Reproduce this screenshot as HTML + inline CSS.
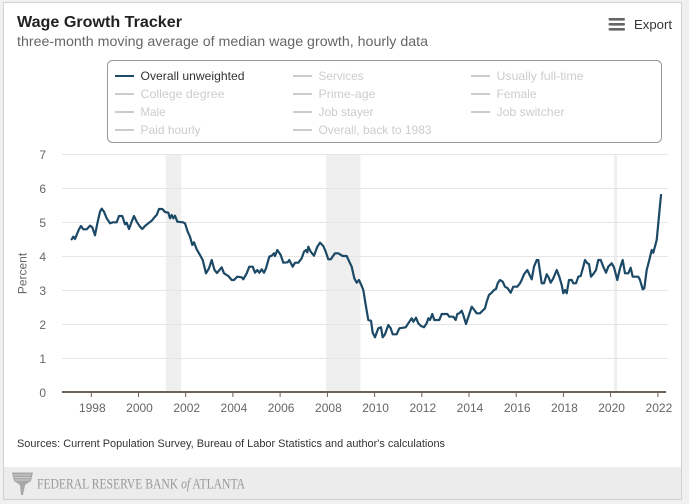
<!DOCTYPE html>
<html>
<head>
<meta charset="utf-8">
<style>
  html,body{margin:0;padding:0;background:#f0f0f0;}
  svg{display:block;}
  text{font-family:"Liberation Sans",Arial,sans-serif;}
</style>
</head>
<body>
<svg width="689" height="504" viewBox="0 0 689 504" xmlns="http://www.w3.org/2000/svg">
  <!-- card -->
  <rect x="0" y="0" width="689" height="504" fill="#f0f0f0"/>
  <rect x="3.5" y="2.5" width="678" height="497" fill="#ffffff" stroke="#d2d2d2" stroke-width="1"/>
  <!-- footer -->
  <rect x="4" y="467" width="677" height="32" fill="#ececec"/>
  <line x1="4" y1="499.5" x2="681" y2="499.5" stroke="#cfcfcf" stroke-width="1"/>

  <!-- title -->
  <text x="17" y="27" font-size="16" font-weight="bold" fill="#222" textLength="165" lengthAdjust="spacingAndGlyphs">Wage Growth Tracker</text>
  <text x="17" y="46" font-size="14" fill="#666" textLength="411" lengthAdjust="spacingAndGlyphs">three-month moving average of median wage growth, hourly data</text>

  <!-- export -->
  <rect x="608.5" y="18" width="16.5" height="2.6" rx="1.2" fill="#666"/>
  <rect x="608.5" y="23" width="16.5" height="2.6" rx="1.2" fill="#666"/>
  <rect x="608.5" y="28" width="16.5" height="2.6" rx="1.2" fill="#666"/>
  <text x="634" y="29" font-size="13" fill="#333" textLength="38" lengthAdjust="spacingAndGlyphs">Export</text>

  <!-- legend -->
  <rect x="107.5" y="60.5" width="554" height="82" rx="5" ry="5" fill="#fff" stroke="#999" stroke-width="1"/>
  <g stroke-width="2">
    <line x1="115" y1="76" x2="134" y2="76" stroke="#1c4966"/>
    <line x1="293" y1="76" x2="312" y2="76" stroke="#ccc"/>
    <line x1="471" y1="76" x2="490" y2="76" stroke="#ccc"/>
    <line x1="115" y1="94" x2="134" y2="94" stroke="#ccc"/>
    <line x1="293" y1="94" x2="312" y2="94" stroke="#ccc"/>
    <line x1="471" y1="94" x2="490" y2="94" stroke="#ccc"/>
    <line x1="115" y1="112" x2="134" y2="112" stroke="#ccc"/>
    <line x1="293" y1="112" x2="312" y2="112" stroke="#ccc"/>
    <line x1="471" y1="112" x2="490" y2="112" stroke="#ccc"/>
    <line x1="115" y1="130" x2="134" y2="130" stroke="#ccc"/>
    <line x1="293" y1="130" x2="312" y2="130" stroke="#ccc"/>
  </g>
  <g font-size="12" fill="#ccc">
    <text x="140.5" y="80" fill="#333" textLength="104" lengthAdjust="spacingAndGlyphs">Overall unweighted</text>
    <text x="318.5" y="80" textLength="45" lengthAdjust="spacingAndGlyphs">Services</text>
    <text x="496.5" y="80" textLength="87" lengthAdjust="spacingAndGlyphs">Usually full-time</text>
    <text x="140.5" y="98" textLength="84" lengthAdjust="spacingAndGlyphs">College degree</text>
    <text x="318.5" y="98" textLength="57" lengthAdjust="spacingAndGlyphs">Prime-age</text>
    <text x="496.5" y="98" textLength="40" lengthAdjust="spacingAndGlyphs">Female</text>
    <text x="140.5" y="116" textLength="25" lengthAdjust="spacingAndGlyphs">Male</text>
    <text x="318.5" y="116" textLength="55" lengthAdjust="spacingAndGlyphs">Job stayer</text>
    <text x="496.5" y="116" textLength="68" lengthAdjust="spacingAndGlyphs">Job switcher</text>
    <text x="140.5" y="134" textLength="60" lengthAdjust="spacingAndGlyphs">Paid hourly</text>
    <text x="318.5" y="134" textLength="113" lengthAdjust="spacingAndGlyphs">Overall, back to 1983</text>
  </g>

  <!-- recession bands -->
  <rect x="165.7" y="155" width="15.5" height="237" fill="#efefef"/>
  <rect x="326" y="155" width="34.5" height="237" fill="#efefef"/>
  <rect x="614" y="155" width="3.2" height="237" fill="#efefef"/>

  <!-- gridlines -->
  <g stroke="#e6e6e6" stroke-width="1">
    <line x1="62" y1="154.5" x2="668" y2="154.5"/>
    <line x1="62" y1="188.5" x2="668" y2="188.5"/>
    <line x1="62" y1="222.5" x2="668" y2="222.5"/>
    <line x1="62" y1="256.5" x2="668" y2="256.5"/>
    <line x1="62" y1="290.5" x2="668" y2="290.5"/>
    <line x1="62" y1="324.5" x2="668" y2="324.5"/>
    <line x1="62" y1="358.5" x2="668" y2="358.5"/>
  </g>

  <!-- y labels -->
  <g font-size="12" fill="#666" text-anchor="end">
    <text x="46" y="159">7</text>
    <text x="46" y="193">6</text>
    <text x="46" y="227">5</text>
    <text x="46" y="261">4</text>
    <text x="46" y="295">3</text>
    <text x="46" y="329">2</text>
    <text x="46" y="363">1</text>
    <text x="46" y="397">0</text>
  </g>
  <text x="0" y="0" font-size="12" fill="#666" text-anchor="middle" transform="translate(26.5,273.5) rotate(-90)">Percent</text>

  <!-- series -->
  <polyline fill="none" stroke="#1c4966" stroke-width="2.2" stroke-linejoin="round" stroke-linecap="round" points="
71.7,239.3 73.3,236.7 75,239 77.3,233.3 79,229.3 81,226 83.3,229.3 86.7,229.3 90,225.7 92.3,227.3 95,235.3 97.7,221.7 100,211.7 101.7,208.7 104,211.7 106.7,218.3 110,223.3 112.7,222.3 116.7,222.3 119,216 122.3,216 125,224.3 126.7,222.7 129,229 131.7,221.7 134,216 136.7,221.7 140,226.7 142.3,229 145,226 148.3,223.3 151.7,220.7 155,216.7 156.7,215 159,209 162.3,209 165,212 168.3,212.7 170,218.3 171.7,215 173.3,218.3 175,215.7 177.3,221.7 182.7,222.3 185,223.3 187.7,231.7 190,236.7 192.3,245 194,242.3 196.7,249.3 200,255 202.7,260 206,273.3 209,268.3 211.7,260 214.5,270 217,273 221.7,267.3 224,273.3 228.3,276 231.7,280 234,280 237.3,276.7 241.7,277.3 243.3,279.3 246.7,273.3 249.3,266.7 252.7,266.7 255,272.7 257.3,270 259.3,272.7 261.7,269.3 264,272.7 266,268.3 269.3,256.7 271.7,255.7 274,253.3 275,256 277.3,250 280.7,255 283.3,262.7 287.7,262.3 289.3,260 292.7,266.7 295,262.7 298.3,262.7 301.7,258.3 304,251.7 306,250 307.3,252.3 308.3,246.7 310.7,251.7 314,255.7 317.3,246.7 320,242.7 323.3,246 325.7,251.7 328.3,259.3 330.7,259.3 335,253.3 338.3,253.3 342.7,256 346.7,256 349.3,261.7 351.7,266.7 354.3,278.3 356.7,282.7 359,280 361.7,286 363.3,290 366,306.7 368.3,320 371,320.7 372.7,332.7 375,337.3 378.3,328.3 381,327.3 382.7,337.3 385,334.3 388.3,325 390.7,328.3 392.7,334.3 396.7,334.3 399.3,328.3 403.3,327.7 405.7,327.3 408.3,323.3 411.7,318.3 413.3,321.7 416,317.7 418.3,323.3 421,326 424,327.3 426.7,323.3 428.3,318.3 430,320 432.3,314 434.3,320 439.3,320 441.7,314 447.3,314 449.3,316.7 453.3,316.7 455.7,320 457.3,314 459.3,313.3 461.7,310.7 463.3,315 466,324 469,315 471.7,306.7 474.3,310 476.7,313.3 480,313.3 483.3,310 485,308.3 486.7,301.7 489,295 491.7,292.7 494,290 496,289 497.7,283.3 500,280 502.7,281.7 505,286.7 507.7,288.3 510.7,292.7 513.3,286.7 517.3,286.7 520,283.3 521.7,280 524,274.3 527.3,270 529.3,274.3 531.7,279.3 534,266.7 536.7,260 538.3,260 540,271.7 541.7,283.3 544,283.3 546.7,274.3 548.3,276.7 550.7,282.7 553.3,278.3 556.7,270 559.3,276.7 561.7,285 563.3,293.3 565,290 566.7,293.3 569,280 571.7,280 573.3,283.3 576,283.3 578.3,276.7 580.7,276 583.3,266.7 585,260 587.3,263.3 589,264 591,276.7 593.3,274 596,270 598.3,260 600.7,260 603.3,266.7 606,272.7 608.3,266.7 611.7,263.3 614,267.3 617.3,280 620,268.3 622.7,260 625,273.3 628.3,273.3 630.7,267.7 632.7,276.7 638.3,276.7 640,280 642.7,289.3 644.3,288.3 646.7,270 649.3,260 651.7,250 653.3,252.7 656.7,240 658.3,223.3 661,195"/>

  <!-- x axis -->
  <line x1="62" y1="392" x2="666" y2="392" stroke="#6b625a" stroke-width="2"/>
  <g stroke="#6b625a" stroke-width="1">
    <line x1="91.3" y1="392" x2="91.3" y2="397"/>
    <line x1="138.5" y1="392" x2="138.5" y2="397"/>
    <line x1="185.7" y1="392" x2="185.7" y2="397"/>
    <line x1="232.9" y1="392" x2="232.9" y2="397"/>
    <line x1="280.1" y1="392" x2="280.1" y2="397"/>
    <line x1="327.4" y1="392" x2="327.4" y2="397"/>
    <line x1="374.6" y1="392" x2="374.6" y2="397"/>
    <line x1="421.8" y1="392" x2="421.8" y2="397"/>
    <line x1="469" y1="392" x2="469" y2="397"/>
    <line x1="516.2" y1="392" x2="516.2" y2="397"/>
    <line x1="563.4" y1="392" x2="563.4" y2="397"/>
    <line x1="610.6" y1="392" x2="610.6" y2="397"/>
    <line x1="657.9" y1="392" x2="657.9" y2="397"/>
  </g>
  <g font-size="12" fill="#666" text-anchor="middle">
    <text x="92.3" y="412">1998</text>
    <text x="139.5" y="412">2000</text>
    <text x="186.7" y="412">2002</text>
    <text x="233.9" y="412">2004</text>
    <text x="281.1" y="412">2006</text>
    <text x="328.4" y="412">2008</text>
    <text x="375.6" y="412">2010</text>
    <text x="422.8" y="412">2012</text>
    <text x="470" y="412">2014</text>
    <text x="517.2" y="412">2016</text>
    <text x="564.4" y="412">2018</text>
    <text x="611.6" y="412">2020</text>
    <text x="658.9" y="412">2022</text>
  </g>

  <!-- sources -->
  <text x="17" y="447" font-size="11" fill="#333" textLength="428" lengthAdjust="spacingAndGlyphs">Sources: Current Population Survey, Bureau of Labor Statistics and author's calculations</text>

  <!-- footer logo -->
  <g fill="#a8a8a8">
    <path d="M12,472.5 L33,472.5 L31,481 L25,485 L23,495 L21,495 L20,485 L14,481 Z"/>
  </g>
  <g stroke="#d8d8d8" stroke-width="0.8">
    <line x1="14" y1="475" x2="31" y2="475"/>
    <line x1="14.5" y1="477.5" x2="30.5" y2="477.5"/>
    <line x1="15" y1="480" x2="30" y2="480"/>
  </g>
  <text x="37" y="488.5" style="font-family:'Liberation Serif','Times New Roman',serif" font-size="15" fill="#999" textLength="208" lengthAdjust="spacingAndGlyphs">FEDERAL RESERVE BANK <tspan style="font-style:italic;font-family:'Liberation Serif',serif">of</tspan> ATLANTA</text>
</svg>
</body>
</html>
